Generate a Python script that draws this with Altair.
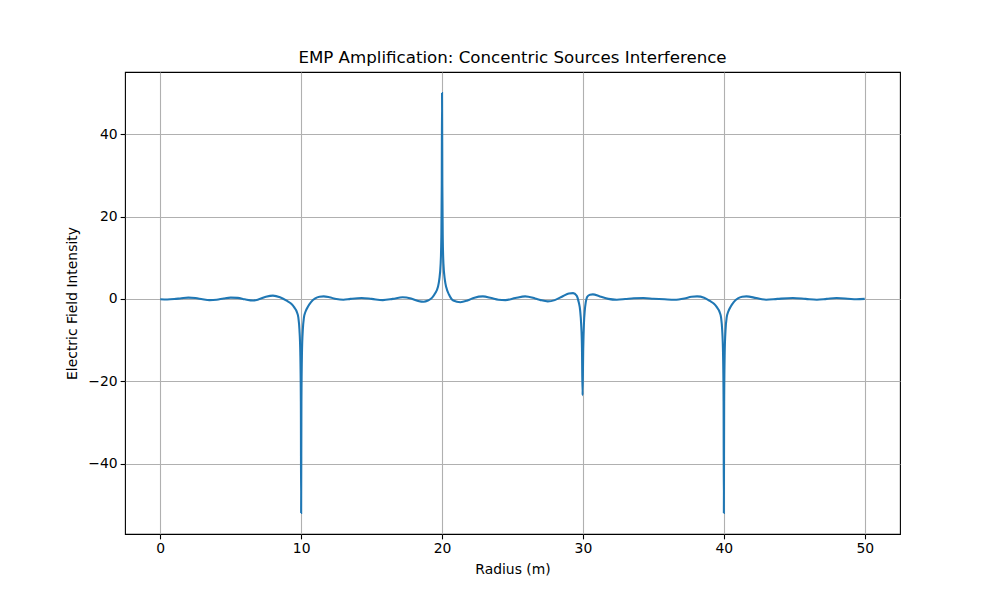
import altair as alt
import pandas as pd

radius = [
    0.0, 0.5, 1.0, 1.5, 2.0, 2.5, 3.0, 3.5, 4.0, 4.5, 5.0, 5.5, 6.0, 6.6, 7.0, 7.5, 8.0, 8.5,
    9.0, 9.3, 9.5, 9.7, 9.8, 9.88, 9.94, 9.98, 10.0, 10.02, 10.06, 10.12, 10.2, 10.3, 10.5, 10.7,
    11.0, 11.3, 11.6, 12.0, 12.5, 13.0, 13.5, 14.3, 15.0, 15.8, 16.5, 17.2, 17.8, 18.3, 18.7,
    19.0, 19.3, 19.5, 19.7, 19.8, 19.9, 19.95, 19.98, 20.0, 20.02, 20.05, 20.1, 20.2, 20.3, 20.5,
    20.8, 21.3, 21.8, 22.3, 22.9, 23.5, 24.0, 24.5, 25.2, 25.9, 26.6, 27.0, 27.5, 28.0, 28.6,
    29.0, 29.3, 29.55, 29.7, 29.8, 29.87, 29.93, 29.97, 30.02, 30.07, 30.13, 30.2, 30.3, 30.5,
    30.7, 31.2, 31.8, 32.4, 33.0, 33.6, 34.3, 35.0, 35.8, 36.5, 37.2, 37.7, 38.1, 38.6,
    39.0, 39.3, 39.5, 39.7, 39.8, 39.88, 39.94, 39.98, 40.0, 40.02, 40.06, 40.12, 40.2, 40.3, 40.5, 40.7,
    41.0, 41.3, 41.6, 42.3, 43.0, 43.8, 44.9, 45.8, 46.6, 47.3, 48.0, 48.8, 49.4, 50.0,
]
intensity = [
    -0.1, -0.15, -0.05, 0.15, 0.3, 0.2, -0.1, -0.3, -0.2, 0.1, 0.3, 0.25, -0.1, -0.4, -0.1, 0.5, 0.8, 0.4,
    -0.5, -1.2, -2.0, -3.2, -4.5, -7.5, -13.0, -25.0, -52.0, -25.0, -13.0, -7.5, -4.5, -3.2, -1.8, -0.8,
    0.1, 0.5, 0.6, 0.4, -0.05, -0.2, 0.0, 0.2, 0.0, -0.3, 0.0, 0.4, 0.1, -0.5, -0.7,
    -0.4, 0.3, 1.3, 2.8, 4.6, 8.5, 15.0, 28.0, 50.0, 28.0, 15.0, 8.5, 4.6, 2.8, 1.0,
    -0.4, -0.8, -0.4, 0.3, 0.6, 0.2, -0.2, -0.3, 0.2, 0.6, 0.1, -0.3, -0.6, -0.3, 0.7,
    1.3, 1.4, 0.8, -0.8, -2.8, -6.0, -12.0, -23.4, -12.0, -6.0, -2.8, -0.8, 0.5, 1.0,
    1.1, 0.6, 0.0, -0.2, -0.05, 0.15, 0.2, 0.05, -0.1, -0.2, 0.1, 0.5, 0.6, 0.3,
    -0.5, -1.2, -2.0, -3.2, -4.5, -7.5, -13.0, -25.0, -52.0, -25.0, -13.0, -7.5, -4.5, -3.2, -1.8, -0.8,
    0.1, 0.5, 0.6, 0.2, -0.2, 0.0, 0.2, 0.0, -0.2, 0.0, 0.2, 0.05, -0.1, 0.0,
]

x_ticks = [0, 10, 20, 30, 40, 50]
y_ticks = [-40, -20, 0, 20, 40]

df = pd.DataFrame({"r": radius, "E": intensity})

FONT = "DejaVu Sans"

chart = (
    alt.Chart(df)
    .mark_line(color="#1f77b4", strokeWidth=2.08, interpolate="monotone")
    .encode(
        x=alt.X(
            "r:Q",
            title="Radius (m)",
            scale=alt.Scale(domain=[-2.5, 52.5], nice=False, zero=False),
            axis=alt.Axis(values=x_ticks, format="d", titlePadding=7),
        ),
        y=alt.Y(
            "E:Q",
            title="Electric Field Intensity",
            scale=alt.Scale(domain=[-57.1, 55.1], nice=False, zero=False),
            axis=alt.Axis(values=y_ticks, format="d", titlePadding=8),
        ),
    )
    .properties(
        width=775,
        height=462,
        title=alt.TitleParams(
            "EMP Amplification: Concentric Sources Interference",
            font=FONT,
            fontSize=16.67,
            fontWeight="normal",
            color="black",
            offset=5,
        ),
        autosize=alt.AutoSizeParams(type="none"),
        padding={"left": 117, "top": 64, "right": 92, "bottom": 58},
    )
    .configure_view(stroke="black", strokeWidth=1.1)
    .configure_axis(
        grid=True,
        gridColor="#b0b0b0",
        gridWidth=1.1,
        domain=False,
        tickColor="black",
        tickSize=4.86,
        tickWidth=1.1,
        labelFont=FONT,
        labelFontSize=13.9,
        labelColor="black",
        labelPadding=3,
        titleFont=FONT,
        titleFontSize=13.9,
        titleFontWeight="normal",
        titleColor="black",
    )
)

chart.save("out.html", embed_options={"renderer": "svg", "actions": False})
